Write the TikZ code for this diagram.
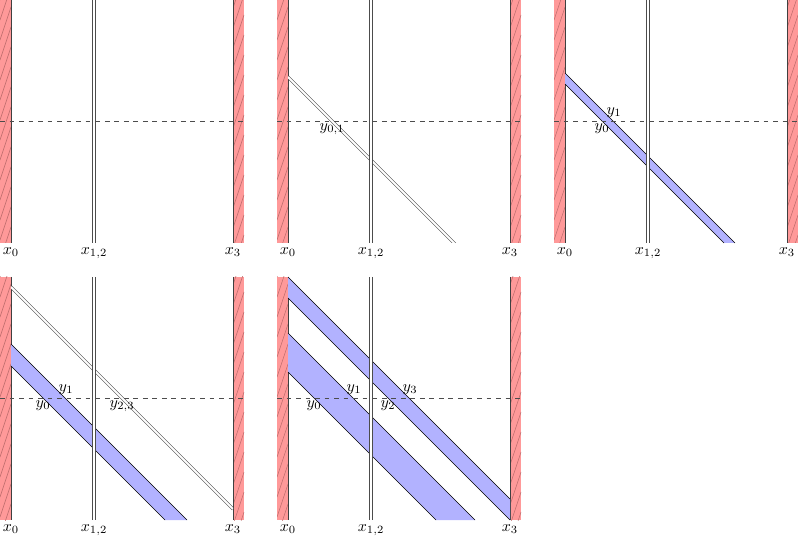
\documentclass[tikz,border=0pt]{standalone}
\begin{document}
\definecolor{hatchc}{RGB}{185,105,105}
\tikzset{
  wallfill/.style={fill=red!40},
  hatchline/.style={draw=hatchc, line width=0.3pt},
  walledge/.style={draw=black!75, line width=0.5pt},
  dbl/.style={draw=black!70, double=white, double distance=1.2pt, line width=0.4pt},
  bandfill/.style={fill=blue!30},
  bandedge/.style={draw=black, line width=0.4pt},
  dashline/.style={draw=black!70, dashed, line width=0.4pt},
  xlab/.style={below, inner sep=2.5pt},
  ylabb/.style={below, inner sep=1.2pt},
  ylaba/.style={above, inner sep=2pt},
}
\newcommand\wallsAndAxes{%
  \fill[wallfill] (0,0) rectangle (11,243);
  \fill[wallfill] (233,0) rectangle (244,243);
  \begin{scope}
    \clip (0,0) rectangle (11,243);
    \foreach \k in {0,20,...,300} \draw[hatchline] (0,\k) -- ++(11,-33);
  \end{scope}
  \begin{scope}
    \clip (233,0) rectangle (244,243);
    \foreach \k in {8,28,...,308} \draw[hatchline] (233,\k) -- ++(11,-33);
  \end{scope}
  \draw[walledge] (11,0) -- (11,243);
  \draw[walledge] (233,0) -- (233,243);
}
\newcommand\midAndLabels{%
  \draw[dbl] (94,0) -- (94,243);
  \draw[dashline] (0,121) -- (244,121);
  \node[xlab] (lx0) at (11,243) {$x_0$};
  \node[xlab] (lx12) at (94,243) {$x_{1,2}$};
  \node[xlab] (lx3) at (233,243) {$x_3$};
}
\begin{tikzpicture}[x=0.63pt, y=-0.63pt]
\useasboundingbox (0,0) rectangle (798,536);

% Panel 1
\begin{scope}[shift={(0,0)}]
  \wallsAndAxes
  \midAndLabels
\end{scope}

% Panel 2
\begin{scope}[shift={(277,0)}]
  \wallsAndAxes
  \begin{scope}
    \clip (11,0) rectangle (233,243);
    \draw[dbl] (11,77) -- (180,246);
  \end{scope}
  \midAndLabels
  \node[ylabb] (y01) at (55,121) {$y_{0,1}$};
\end{scope}

% Panel 3
\begin{scope}[shift={(554,0)}]
  \wallsAndAxes
  \fill[bandfill] (11,73) -- (181,243) -- (170,243) -- (11,84) -- cycle;
  \draw[bandedge] (11,73) -- (181,243);
  \draw[bandedge] (11,84) -- (170,243);
  \midAndLabels
  \node[ylaba] (p3y1) at (60,121) {$y_1$};
  \node[ylabb] (p3y0) at (48,121) {$y_0$};
\end{scope}

% Panel 4
\begin{scope}[shift={(0,277)}]
  \wallsAndAxes
  \fill[bandfill] (11,67) -- (187,243) -- (165,243) -- (11,89) -- cycle;
  \draw[bandedge] (11,67) -- (187,243);
  \draw[bandedge] (11,89) -- (165,243);
  \begin{scope}
    \clip (11,0) rectangle (233,243);
    \draw[dbl] (11,10) -- (233,232);
  \end{scope}
  \midAndLabels
  \node[ylaba] (p4y1) at (66,121) {$y_1$};
  \node[ylabb] (p4y0) at (43,121) {$y_0$};
  \node[ylabb] (p4y23) at (122,121) {$y_{2,3}$};
\end{scope}

% Panel 5
\begin{scope}[shift={(277,277)}]
  \wallsAndAxes
  \fill[bandfill] (11,0) -- (233,222) -- (233,243) -- (11,21) -- cycle;
  \draw[bandedge] (11,0) -- (233,222);
  \draw[bandedge] (11,21) -- (233,243);
  \fill[bandfill] (11,56) -- (198,243) -- (159,243) -- (11,95) -- cycle;
  \draw[bandedge] (11,56) -- (198,243);
  \draw[bandedge] (11,95) -- (159,243);
  \midAndLabels
  \node[ylabb] (p5y0) at (37,121) {$y_0$};
  \node[ylaba] (p5y1) at (77,121) {$y_1$};
  \node[ylabb] (p5y2) at (111,121) {$y_2$};
  \node[ylaba] (p5y3) at (133,121) {$y_3$};
\end{scope}
\end{tikzpicture}
\end{document}
